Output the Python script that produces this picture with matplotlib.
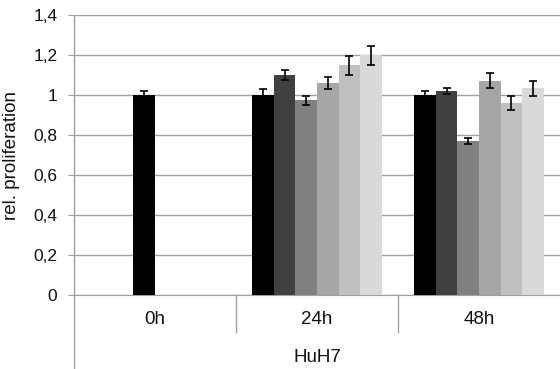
import matplotlib.pyplot as plt
import numpy as np

plt.rcParams['font.family'] = ['Liberation Sans', 'DejaVu Sans']

# data
groups = ['0h', '24h', '48h']
cell_line = 'HuH7'
colors = ['#000000', '#404040', '#808080', '#a6a6a6', '#bfbfbf', '#d9d9d9']

val_0h = 1.00
err_0h = 0.02

val_24h = [1.00, 1.10, 0.973, 1.062, 1.148, 1.198]
err_24h = [0.028, 0.027, 0.021, 0.03, 0.047, 0.047]

val_48h = [1.00, 1.02, 0.768, 1.072, 0.96, 1.033]
err_48h = [0.018, 0.017, 0.015, 0.039, 0.035, 0.0375]

yticks = [0, 0.2, 0.4, 0.6, 0.8, 1.0, 1.2, 1.4]
yticklabels = ['0', '0,2', '0,4', '0,6', '0,8', '1', '1,2', '1,4']

fig = plt.figure(figsize=(5.6, 3.69), dpi=100)
ax = fig.add_axes([74 / 560, 74 / 369, 486 / 560, 280 / 369])

w = 0.133
grey = '#a0a0a0'

# 0h only has the one bar (sits in slot 3 like in the original)
ax.bar(0 + (2 - 2.5) * w, val_0h, w, color=colors[0], zorder=3)
ax.errorbar(0 + (2 - 2.5) * w, val_0h, yerr=err_0h, fmt='none', ecolor='black',
            elinewidth=1.2, capsize=3, capthick=1.2, zorder=4)

for g, (vals, errs) in enumerate([(val_24h, err_24h), (val_48h, err_48h)], start=1):
    for i in range(6):
        x = g + (i - 2.5) * w
        ax.bar(x, vals[i], w, color=colors[i], zorder=3)
        ax.errorbar(x, vals[i], yerr=errs[i], fmt='none', ecolor='black',
                    elinewidth=1.2, capsize=3, capthick=1.2, zorder=4)

ax.set_xlim(-0.5, 2.5)
ax.set_ylim(0, 1.4)
ax.set_yticks(yticks)
ax.set_yticklabels(yticklabels, fontsize=12.5, color='#111111')
ax.set_xticks([])
ax.yaxis.grid(True, color=grey, linewidth=1.0, zorder=0)
ax.set_axisbelow(True)
ax.tick_params(axis='y', length=4, color=grey, pad=8)

for s in ['top', 'right']:
    ax.spines[s].set_visible(False)
ax.spines['bottom'].set_color(grey)
ax.spines['left'].set_visible(False)

# left axis line running down through the category area
ax.plot([0, 0], [-0.264, 1], transform=ax.transAxes, color=grey, lw=1.0, clip_on=False)
# separators between the time groups
for xs in [0.5, 1.5]:
    ax.plot([xs, xs], [0, -0.132], transform=ax.get_xaxis_transform(), color=grey,
            lw=1.0, clip_on=False)

for g, name in enumerate(groups):
    ax.text(g, -0.089, name, transform=ax.get_xaxis_transform(), ha='center',
            va='center', fontsize=13.5, color='#111111')
ax.text(0.5, -0.222, cell_line, transform=ax.transAxes, ha='center', va='center',
        fontsize=13.5, color='#111111')

ax.set_ylabel('rel. proliferation', fontsize=13.5, color='#111111')
ax.yaxis.set_label_coords(-0.111, 0.5)

fig.savefig('out.png', dpi=100)
